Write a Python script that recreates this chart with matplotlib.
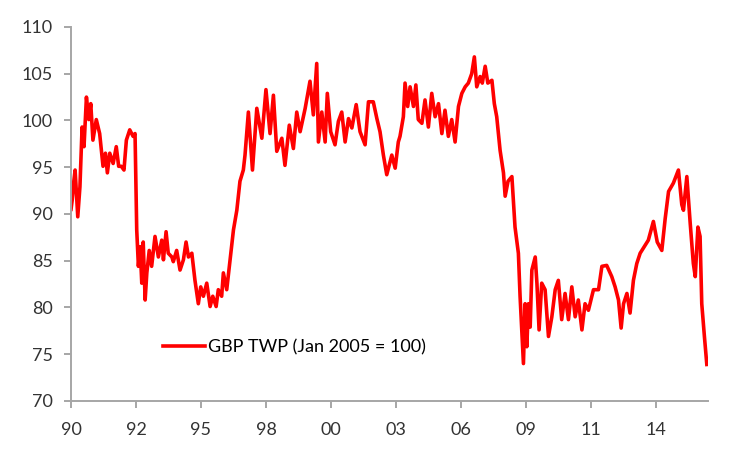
import numpy as np
import matplotlib
matplotlib.use('Agg')
import matplotlib.pyplot as plt

plt.rcParams['font.family'] = ['Lato', 'DejaVu Sans']

# GBP trade-weighted index (decimal year, index level)
years = [
    1990.00, 1990.05, 1990.12, 1990.17, 1990.28, 1990.37, 1990.46, 1990.54, 1990.64, 1990.74,
    1990.82, 1990.91, 1991.05, 1991.19, 1991.26, 1991.33, 1991.43, 1991.51, 1991.61, 1991.75,
    1991.88, 1991.98, 1992.09, 1992.20, 1992.30, 1992.44, 1992.58, 1992.66, 1992.73, 1992.80,
    1992.87, 1992.94, 1993.00, 1993.08, 1993.15, 1993.25, 1993.35, 1993.49, 1993.63, 1993.77,
    1993.84, 1993.95, 1994.04, 1994.19, 1994.25, 1994.39, 1994.53, 1994.67, 1994.78, 1994.88,
    1995.02, 1995.15, 1995.29, 1995.39, 1995.50, 1995.64, 1995.78, 1995.89, 1996.03, 1996.12,
    1996.26, 1996.33, 1996.47, 1996.61, 1996.75, 1996.89, 1997.02, 1997.16, 1997.23, 1997.37,
    1997.54, 1997.72, 1997.93, 1998.10, 1998.27, 1998.41, 1998.55, 1998.76, 1998.89, 1999.07,
    1999.24, 1999.38, 1999.52, 1999.73, 1999.93, 2000.07, 2000.21, 2000.28, 2000.42, 2000.56,
    2000.65, 2000.79, 2000.97, 2001.11, 2001.25, 2001.39, 2001.53, 2001.67, 2001.85, 2002.01,
    2002.22, 2002.36, 2002.56, 2002.71, 2002.84, 2002.98, 2003.12, 2003.33, 2003.47, 2003.60,
    2003.67, 2003.81, 2003.88, 2003.99, 2004.09, 2004.23, 2004.33, 2004.43, 2004.58, 2004.71,
    2004.85, 2004.99, 2005.13, 2005.27, 2005.41, 2005.54, 2005.68, 2005.82, 2005.96, 2006.10,
    2006.24, 2006.38, 2006.51, 2006.65, 2006.76, 2006.86, 2007.00, 2007.09, 2007.21, 2007.32,
    2007.49, 2007.59, 2007.69, 2007.83, 2007.97, 2008.04, 2008.16, 2008.32, 2008.45, 2008.59,
    2008.66, 2008.80, 2008.87, 2008.94, 2009.01, 2009.08, 2009.15, 2009.29, 2009.36, 2009.45,
    2009.56, 2009.70, 2009.84, 2009.98, 2010.12, 2010.25, 2010.39, 2010.53, 2010.67, 2010.81,
    2010.95, 2011.08, 2011.23, 2011.36, 2011.50, 2011.71, 2011.92, 2012.06, 2012.26, 2012.47,
    2012.61, 2012.75, 2012.86, 2012.96, 2013.10, 2013.23, 2013.37, 2013.51, 2013.65, 2013.82,
    2013.99, 2014.20, 2014.36, 2014.55, 2014.69, 2014.83, 2015.03, 2015.24, 2015.38, 2015.45,
    2015.59, 2015.73, 2015.86, 2015.94, 2016.05, 2016.14, 2016.21, 2016.32, 2016.42,
]
gbp_twp = [
    90.5, 91.5, 93.6, 94.7, 89.7, 92.9, 99.3, 97.2, 102.5, 100.1,
    101.8, 97.9, 100.1, 98.6, 96.8, 95.1, 96.5, 94.4, 96.5, 95.4,
    97.2, 95.1, 95.1, 94.7, 97.9, 99.0, 98.3, 98.6, 88.3, 84.4,
    86.5, 82.6, 87.0, 80.8, 83.7, 86.1, 84.4, 87.6, 85.4, 87.2,
    85.1, 88.1, 85.8, 85.4, 84.9, 86.1, 84.0, 85.1, 87.0, 85.4,
    85.8, 82.9, 80.4, 82.2, 81.2, 82.6, 80.1, 81.2, 80.1, 81.9,
    81.2, 83.7, 81.9, 85.1, 88.3, 90.4, 93.5, 94.7, 96.3, 100.9,
    94.7, 101.3, 98.1, 103.3, 98.6, 102.7, 96.7, 98.1, 95.2, 99.5,
    97.0, 100.9, 98.8, 101.3, 104.2, 100.6, 106.1, 97.7, 100.9, 97.7,
    102.9, 98.8, 97.4, 99.9, 100.9, 97.7, 100.2, 99.2, 101.7, 98.8,
    97.4, 102.0, 102.0, 100.2, 98.8, 96.3, 94.2, 96.3, 94.9, 97.7,
    98.3, 100.4, 104.0, 101.5, 103.6, 101.5, 103.8, 100.1, 99.7, 102.2,
    99.3, 102.9, 100.4, 101.8, 98.6, 101.1, 98.3, 100.1, 97.7, 101.5,
    102.9, 103.6, 104.0, 105.0, 106.8, 103.6, 104.7, 104.0, 105.8, 104.0,
    104.3, 101.8, 100.4, 96.8, 94.4, 91.9, 93.5, 94.0, 88.6, 85.8,
    81.2, 74.0, 80.4, 75.8, 80.4, 77.9, 84.0, 85.4, 82.6, 77.6,
    82.6, 81.9, 76.9, 79.0, 81.9, 82.9, 78.7, 81.5, 78.7, 82.2,
    79.0, 80.8, 77.6, 80.4, 79.7, 81.9, 81.9, 84.4, 84.5, 83.3,
    82.2, 80.8, 77.8, 80.4, 81.5, 79.4, 82.9, 84.7, 85.8, 86.5,
    87.2, 89.2, 87.0, 86.1, 89.5, 92.4, 93.3, 94.7, 91.0, 90.4,
    94.0, 89.0, 84.7, 83.3, 88.6, 87.6, 80.4, 76.9, 73.9,
]
tick_labels = ['90', '92', '95', '98', '00', '03', '06', '09', '11', '14']

fig = plt.figure(figsize=(7.5, 4.5), dpi=100)
ax = fig.add_axes([0.0947, 0.109, 0.849, 0.831])

ax.plot(years, gbp_twp, color='#FF0000', linewidth=2.6, label='GBP TWP (Jan 2005 = 100)')

ax.set_xlim(1990, 2016.46)
ax.set_ylim(70, 110)
ax.set_yticks(np.arange(70, 111, 5))
ax.set_xticks(1990 + 2.7 * np.arange(len(tick_labels)))
ax.set_xticklabels(tick_labels)

for side in ['top', 'right']:
    ax.spines[side].set_visible(False)
for side in ['left', 'bottom']:
    ax.spines[side].set_color('#A6A6A6')
    ax.spines[side].set_linewidth(1.4)
ax.tick_params(axis='y', length=5, width=1.4, color='#A6A6A6', labelsize=13, labelcolor='#333333', pad=8)
ax.tick_params(axis='x', length=5, width=1.4, color='#A6A6A6', labelsize=13, labelcolor='#333333', pad=10)

ax.legend(loc='center left', bbox_to_anchor=(0.1445, 0.144), frameon=False, fontsize=13,
          handlelength=2.3, handletextpad=0.2, borderpad=0, borderaxespad=0)

plt.savefig('out.png', dpi=100)
